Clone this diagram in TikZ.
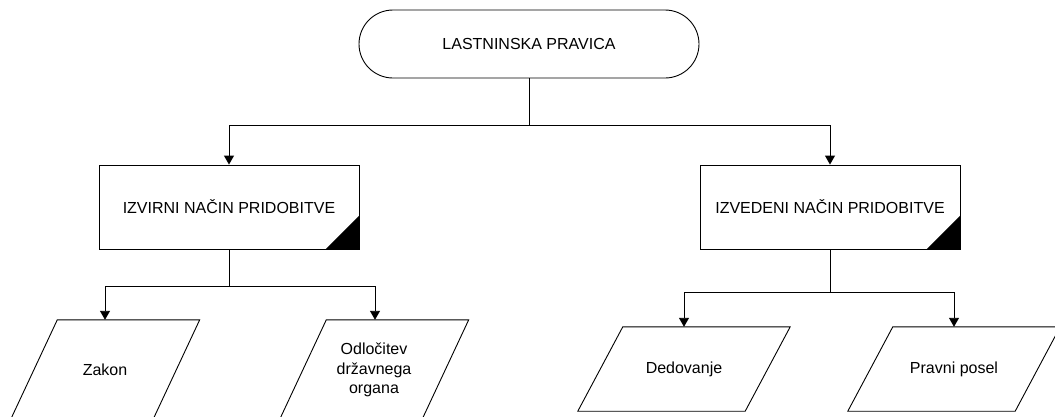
\documentclass[tikz,border=0pt]{standalone}
\usepackage{fontspec}
\setmainfont{Liberation Sans}
\usetikzlibrary{arrows.meta}
\begin{document}
\begin{tikzpicture}[x=1pt,y=-1pt,
  every node/.style={font=\fontsize{16}{19.5}\selectfont, align=center, inner sep=0pt},
  line/.style={line width=0.9pt},
  arr/.style={line, -{Triangle[width=10pt,length=9pt]}},
  terminal/.style={draw, line, rectangle, rounded corners=34pt, minimum width=340pt, minimum height=68pt},
  procbox/.style={draw, line, rectangle, minimum width=260pt, minimum height=84pt},
  parabig/.style={minimum width=189pt, minimum height=100pt},
  parasmall/.style={minimum width=212pt, minimum height=84pt}
]
\useasboundingbox (0,0) rectangle (1055,416);

% root
\node[terminal] (root) at (529,44) {LASTNINSKA PRAVICA};

% acquisition types
\node[procbox] (izv) at (229,207) {IZVIRNI NAČIN PRIDOBITVE};
\node[procbox] (ize) at (830,207) {IZVEDENI NAČIN PRIDOBITVE};
\foreach \b in {izv,ize}
  \fill (\b.south east) -- ++(-34,0) -- ++(34,-34) -- cycle;

% leaves (text anchors; outlines drawn below)
\node[parabig] (zak) at (105,370) {Zakon};
\node[parabig] (odl) at (374,370) {Odločitev\\državnega\\organa};
\node[parasmall] (ded) at (684,369) {Dedovanje};
\node[parasmall] (pra) at (954,369) {Pravni posel};

% parallelogram outlines: top edge shifted right by the slant
\foreach \n/\s in {zak/47,odl/47,ded/45,pra/45}
  \draw[line] ([xshift=\s pt]\n.north west) -- (\n.north east)
     -- ([xshift=-\s pt]\n.south east) -- (\n.south west) -- cycle;

% connectors
\coordinate (j1) at (529,125);
\coordinate (j2) at (229,286);
\coordinate (j3) at (830,292);

\draw[line] (root.south) -- (j1);
\draw[arr] (j1) -| (izv.north);
\draw[arr] (j1) -| (ize.north);

\draw[line] (izv.south) -- (j2);
\draw[arr] (j2) -| (zak.north);
\draw[arr] (j2) -| ([xshift=1pt]odl.north);

\draw[line] (ize.south) -- (j3);
\draw[arr] (j3) -| (ded.north);
\draw[arr] (j3) -| (pra.north);
\end{tikzpicture}
\end{document}
